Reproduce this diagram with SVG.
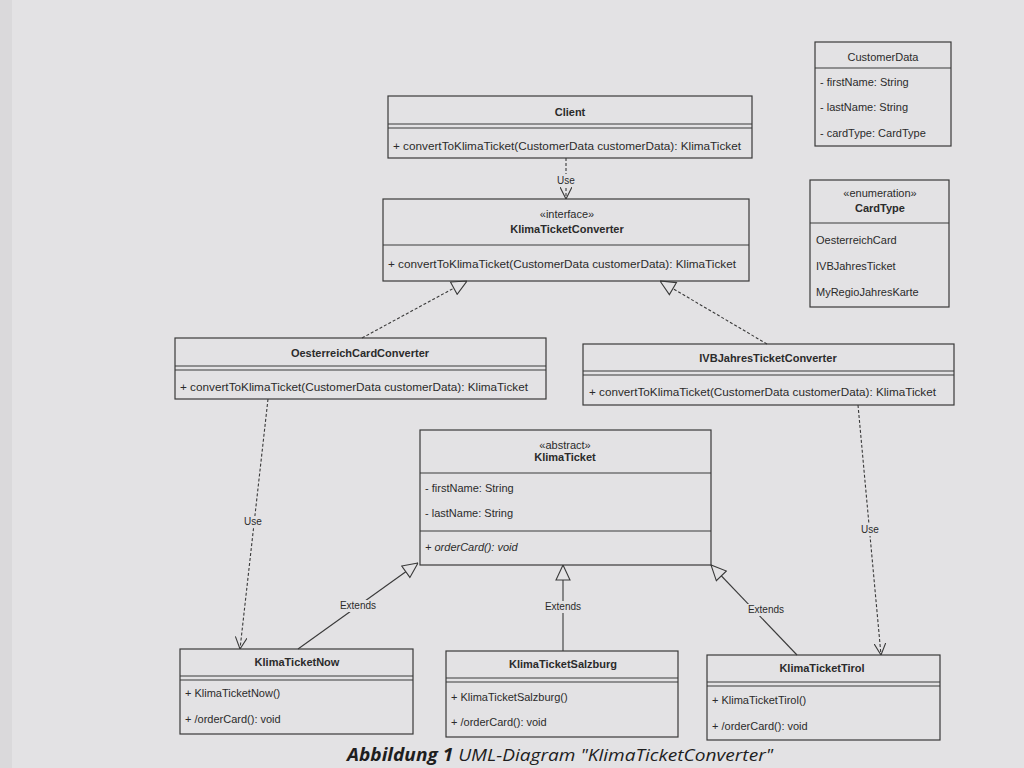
<svg xmlns="http://www.w3.org/2000/svg" width="1024" height="768" viewBox="0 0 1024 768">
<style>
.bg{fill:#e3e2e4}
.box{fill:none;stroke:#3a3a3a;stroke-width:1.2}
.ln{stroke:#3a3a3a;stroke-width:1.1;fill:none}
.dash{stroke:#3a3a3a;stroke-width:1.1;fill:none;stroke-dasharray:3 2}
text{font-family:"Liberation Sans",Arial,sans-serif;fill:#2b2b2b;font-size:11px}
.b{font-weight:bold}
.c{text-anchor:middle}
.i{font-style:italic}
.lbl{font-size:10px;text-anchor:middle}
.cap{font-family:"Open Sans","Noto Sans",sans-serif;font-size:17px;font-style:italic;fill:#1e1e1e}
</style>
<defs>
<marker id="tri" viewBox="0 0 16 16" refX="16" refY="8" markerWidth="16" markerHeight="16" markerUnits="userSpaceOnUse" orient="auto">
<path d="M1,1 L16,8 L1,15 Z" fill="#e3e2e4" stroke="#3a3a3a" stroke-width="1.1"/>
</marker>
<marker id="open" viewBox="0 0 12 12" refX="12" refY="6" markerWidth="12" markerHeight="12" markerUnits="userSpaceOnUse" orient="auto">
<path d="M0,0 L12,6 L0,12" fill="none" stroke="#3a3a3a" stroke-width="1.1"/>
</marker>
</defs>
<rect class="bg" x="0" y="0" width="1024" height="768"/>
<rect x="0" y="0" width="12" height="768" fill="#dad9db"/>

<g id="connectors">
<line class="dash" x1="566" y1="158" x2="566" y2="199" marker-end="url(#open)"/>
<rect x="554" y="174" width="24" height="12" fill="#e3e2e4"/>
<text class="lbl" x="566" y="184">Use</text>
<line class="dash" x1="362" y1="338" x2="467" y2="281" marker-end="url(#tri)"/>
<line class="dash" x1="767" y1="344" x2="660" y2="281" marker-end="url(#tri)"/>
<line class="dash" x1="268" y1="399" x2="240" y2="649" marker-end="url(#open)"/>
<rect x="240" y="516" width="26" height="12" fill="#e3e2e4"/>
<text class="lbl" x="253" y="525">Use</text>
<line class="dash" x1="858" y1="405" x2="881" y2="655" marker-end="url(#open)"/>
<rect x="857" y="524" width="26" height="12" fill="#e3e2e4"/>
<text class="lbl" x="870" y="533">Use</text>
<line class="ln" x1="298" y1="649" x2="418" y2="563" marker-end="url(#tri)"/>
<rect x="336" y="600" width="44" height="12" fill="#e3e2e4"/>
<text class="lbl" x="358" y="609">Extends</text>
<line class="ln" x1="563" y1="651" x2="563" y2="565" marker-end="url(#tri)"/>
<rect x="541" y="601" width="44" height="12" fill="#e3e2e4"/>
<text class="lbl" x="563" y="610">Extends</text>
<line class="ln" x1="797" y1="655" x2="711" y2="565" marker-end="url(#tri)"/>
<rect x="744" y="604" width="44" height="12" fill="#e3e2e4"/>
<text class="lbl" x="766" y="613">Extends</text>
</g>

<g id="Client">
<rect class="box" x="388" y="96" width="364" height="62"/>
<text class="b c" x="570" y="116">Client</text>
<line class="ln" x1="388" y1="124" x2="752" y2="124"/>
<line class="ln" x1="388" y1="128" x2="752" y2="128"/>
<text x="393" y="150" textLength="348" lengthAdjust="spacingAndGlyphs">+ convertToKlimaTicket(CustomerData customerData): KlimaTicket</text>
</g>

<g id="KlimaTicketConverter">
<rect class="box" x="383" y="199" width="366" height="82"/>
<text class="c" x="567" y="218" font-size="10">«interface»</text>
<text class="b c" x="567" y="233">KlimaTicketConverter</text>
<line class="ln" x1="383" y1="245" x2="749" y2="245"/>
<text x="388" y="268" textLength="348" lengthAdjust="spacingAndGlyphs">+ convertToKlimaTicket(CustomerData customerData): KlimaTicket</text>
</g>

<g id="CustomerData">
<rect class="box" x="815" y="42" width="136" height="104"/>
<text class="c" x="883" y="61">CustomerData</text>
<line class="ln" x1="815" y1="68" x2="951" y2="68"/>
<text x="820" y="86">- firstName: String</text>
<text x="820" y="111">- lastName: String</text>
<text x="820" y="137">- cardType: CardType</text>
</g>

<g id="CardType">
<rect class="box" x="810" y="180" width="139" height="127"/>
<text class="c" x="880" y="197" font-size="10">«enumeration»</text>
<text class="b c" x="880" y="212">CardType</text>
<line class="ln" x1="810" y1="223" x2="949" y2="223"/>
<text x="816" y="244">OesterreichCard</text>
<text x="816" y="270">IVBJahresTicket</text>
<text x="816" y="296">MyRegioJahresKarte</text>
</g>

<g id="OesterreichCardConverter">
<rect class="box" x="175" y="338" width="371" height="61"/>
<text class="b c" x="360" y="357">OesterreichCardConverter</text>
<line class="ln" x1="175" y1="366" x2="546" y2="366"/>
<line class="ln" x1="175" y1="370" x2="546" y2="370"/>
<text x="180" y="391" textLength="348" lengthAdjust="spacingAndGlyphs">+ convertToKlimaTicket(CustomerData customerData): KlimaTicket</text>
</g>

<g id="IVBJahresTicketConverter">
<rect class="box" x="583" y="344" width="371" height="61"/>
<text class="b c" x="768" y="362">IVBJahresTicketConverter</text>
<line class="ln" x1="583" y1="371" x2="954" y2="371"/>
<line class="ln" x1="583" y1="375" x2="954" y2="375"/>
<text x="589" y="396" textLength="347" lengthAdjust="spacingAndGlyphs">+ convertToKlimaTicket(CustomerData customerData): KlimaTicket</text>
</g>

<g id="KlimaTicket">
<rect class="box" x="420" y="430" width="291" height="135"/>
<text class="c" x="565" y="449" font-size="10">«abstract»</text>
<text class="b c" x="565" y="461">KlimaTicket</text>
<line class="ln" x1="420" y1="473" x2="711" y2="473"/>
<text x="425" y="492">- firstName: String</text>
<text x="425" y="517">- lastName: String</text>
<line class="ln" x1="420" y1="531" x2="711" y2="531"/>
<text class="i" x="425" y="551" font-size="10.5">+ orderCard(): void</text>
</g>

<g id="KlimaTicketNow">
<rect class="box" x="180" y="649" width="233" height="85"/>
<text class="b c" x="297" y="666">KlimaTicketNow</text>
<line class="ln" x1="180" y1="676" x2="413" y2="676"/>
<line class="ln" x1="180" y1="680" x2="413" y2="680"/>
<text x="185" y="697">+ KlimaTicketNow()</text>
<text x="185" y="723">+ /orderCard(): void</text>
</g>

<g id="KlimaTicketSalzburg">
<rect class="box" x="446" y="651" width="232" height="86"/>
<text class="b c" x="563" y="668">KlimaTicketSalzburg</text>
<line class="ln" x1="446" y1="678" x2="678" y2="678"/>
<line class="ln" x1="446" y1="682" x2="678" y2="682"/>
<text x="451" y="701">+ KlimaTicketSalzburg()</text>
<text x="451" y="726">+ /orderCard(): void</text>
</g>

<g id="KlimaTicketTirol">
<rect class="box" x="707" y="655" width="233" height="85"/>
<text class="b c" x="822" y="672">KlimaTicketTirol</text>
<line class="ln" x1="707" y1="682" x2="940" y2="682"/>
<line class="ln" x1="707" y1="686" x2="940" y2="686"/>
<text x="712" y="704">+ KlimaTicketTirol()</text>
<text x="712" y="730">+ /orderCard(): void</text>
</g>

<text class="cap" x="347" y="761" textLength="426" lengthAdjust="spacingAndGlyphs"><tspan font-weight="bold">Abbildung 1</tspan> UML-Diagram "KlimaTicketConverter"</text>
</svg>
